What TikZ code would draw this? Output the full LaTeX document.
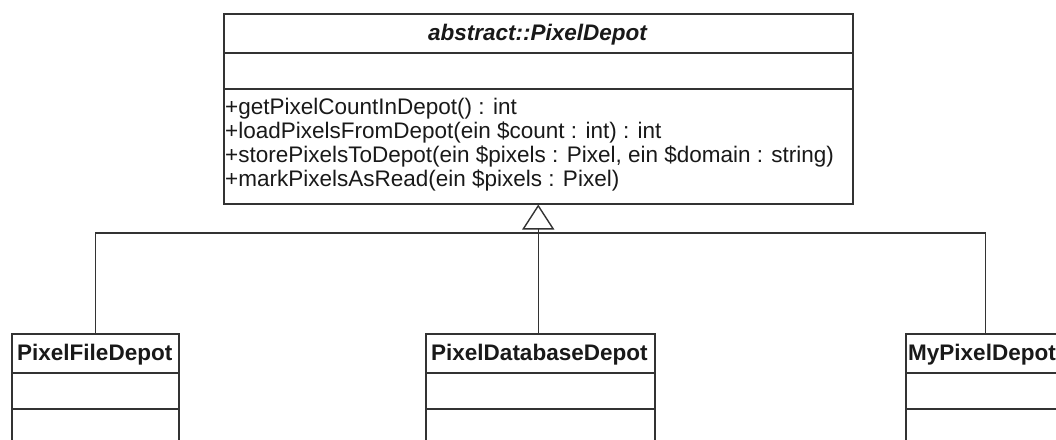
\documentclass[tikz,border=0pt]{standalone}
\usepackage{fontspec}
\setmainfont{Liberation Sans}
\usetikzlibrary{arrows.meta}
\definecolor{umlline}{HTML}{333333}
\begin{document}
\begin{tikzpicture}[x=1pt,y=-1pt,
  umlbox/.style={draw=umlline, line width=1.5pt, fill=white, rectangle, inner sep=0pt, anchor=north west},
  sepline/.style={draw=umlline, line width=1.5pt},
  conn/.style={draw=umlline, line width=1.4pt},
  gen/.style={conn, -{Triangle[open, length=25pt, width=32pt, line width=1.4pt]}},
  txt/.style={inner sep=0pt, font=\fontsize{22.5}{24}\selectfont, text=black!90},
  titletxt/.style={txt, font=\fontsize{22.5}{24}\selectfont\bfseries}
]
\useasboundingbox (0,0) rectangle (1056,439);

% abstract class
\node[umlbox, minimum width=629pt, minimum height=190pt] (depot) at (223,13) {};
\draw[sepline] ([yshift=-40pt]depot.north west) -- ([yshift=-40pt]depot.north east);
\draw[sepline] ([yshift=-76pt]depot.north west) -- ([yshift=-76pt]depot.north east);
\node[titletxt, anchor=base, font=\fontsize{22.5}{24}\selectfont\bfseries\itshape] (depottitle) at (537.5,40) {abstract::PixelDepot};
\node[txt, anchor=base west] (m1) at (225,114) {+getPixelCountInDepot() : int};
\node[txt, anchor=base west] (m2) at (225,138) {+loadPixelsFromDepot(ein \$count : int) : int};
\node[txt, anchor=base west] (m3) at (225,162) {+storePixelsToDepot(ein \$pixels : Pixel, ein \$domain : string)};
\node[txt, anchor=base west] (m4) at (225,186) {+markPixelsAsRead(ein \$pixels : Pixel)};

% subclasses
\node[umlbox, minimum width=167pt, minimum height=130pt] (file) at (11,333) {};
\node[umlbox, minimum width=229pt, minimum height=130pt] (db) at (425,333) {};
\node[umlbox, minimum width=160pt, minimum height=130pt] (my) at (905,333) {};
\foreach \b in {file,db,my}{
  \draw[sepline] ([yshift=-40pt]\b.north west) -- ([yshift=-40pt]\b.north east);
  \draw[sepline] ([yshift=-76pt]\b.north west) -- ([yshift=-76pt]\b.north east);
}
\node[titletxt, anchor=base west] (filetitle) at (17,360) {PixelFileDepot};
\node[titletxt, anchor=base west] (dbtitle) at (431,360) {PixelDatabaseDepot};
\node[titletxt, anchor=base west] (mytitle) at (908,360) {MyPixelDepot};

% generalization
\coordinate (junc) at (537.5,233);
\draw[gen] (db.north -| depot.south) -- (depot.south);
\draw[conn] (file.north) |- (junc);
\draw[conn] (my.north) |- (junc);
\end{tikzpicture}
\end{document}
